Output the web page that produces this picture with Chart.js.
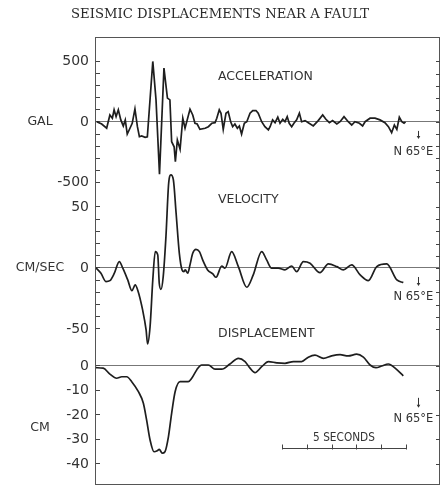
<!DOCTYPE html>
<html><head><meta charset="utf-8">
<script src="https://cdn.jsdelivr.net/npm/chart.js@4.4.1/dist/chart.umd.min.js"></script>
<style>html,body{margin:0;padding:0;background:#fff;}canvas{display:block;}</style>
</head><body>
<canvas id="c" width="443" height="488"></canvas>
<script>
// ---- data (time in seconds) ----
const accTime = [0.03,0.23,0.43,0.56,0.66,0.73,0.81,0.90,1.00,1.10,1.18,1.26,1.37,1.46,1.57,1.67,1.75,1.84,1.98,2.07,2.29,2.42,2.56,2.74,2.88,2.98,3.05,3.15,3.20,3.28,3.39,3.50,3.59,3.79,3.90,3.99,4.08,4.19,4.40,4.53,4.67,4.80,4.87,4.97,5.04,5.13,5.24,5.33,5.43,5.51,5.60,5.70,5.78,5.87,5.98,6.08,6.21,6.32,6.45,6.54,6.68,6.81,6.95,7.02,7.12,7.22,7.33,7.42,7.53,7.62,7.71,7.79,7.89,7.98,8.09,8.20,8.29,8.43,8.56,8.76,8.96,9.14,9.27,9.41,9.54,9.71,9.84,10.00,10.17,10.31,10.44,10.62,10.75,10.85,11.05,11.25,11.45,11.65,11.79,11.92,12.03,12.13,12.23,12.33,12.42,12.48];
const accValues = [2,-17,-52,58,31,100,44,100,17,-33,17,-100,-52,-11,108,-39,-122,-116,-127,-122,500,182,-431,445,197,182,-163,-205,-329,-149,-226,31,-52,105,58,-11,-17,-61,-52,-39,-11,-6,31,100,72,-61,72,85,2,-39,-17,-52,-33,-100,-11,2,72,94,94,72,2,-39,-66,-39,17,-6,39,-11,22,2,44,-11,-39,-11,17,72,2,11,-6,-33,11,58,22,-6,11,-17,2,44,2,-25,2,-11,-33,2,31,31,17,-6,-39,-89,-25,-61,39,2,-11,0];

const velTime = [0,0.20,0.40,0.56,0.74,0.94,1.08,1.28,1.45,1.58,1.68,1.88,2.02,2.08,2.18,2.29,2.39,2.49,2.55,2.62,2.71,2.82,2.93,3.02,3.12,3.23,3.36,3.47,3.54,3.60,3.70,3.79,3.90,4.03,4.17,4.30,4.50,4.71,4.84,5.07,5.20,5.47,5.74,6.08,6.34,6.68,6.88,7.08,7.35,7.62,7.89,8.09,8.36,8.63,9.03,9.37,9.71,9.97,10.31,10.65,10.98,11.32,11.72,12.13,12.39];
const velValues = [0,-4.3,-11.2,-10.4,-4.3,5.2,-0.2,-9.8,-18.6,-13.9,-18.0,-34.4,-50.8,-62.3,-48.1,-9.8,13.4,10.7,-12.5,-17.5,-7.1,25.7,69.4,76.2,72.1,44.8,12.0,-1.6,-3.0,-1.6,-4.3,2.5,12.0,15.3,13.4,6.6,-1.6,-4.9,-7.6,1.6,-0.2,13.4,1.1,-15.8,-5.7,13.4,6.6,-0.2,-0.2,-1.6,1.6,-3.0,5.2,3.9,-3.9,3.3,1.1,-1.6,2.5,-5.7,-10.4,1.1,3.3,-9.8,-12.0];

const dispTime = [0,0.29,0.56,0.83,1.04,1.24,1.44,1.71,1.91,2.04,2.18,2.34,2.47,2.55,2.67,2.78,2.92,3.05,3.19,3.39,3.59,3.72,3.86,4.06,4.26,4.53,4.80,5.07,5.40,5.74,6.01,6.21,6.41,6.68,6.95,7.29,7.62,7.96,8.29,8.56,8.83,9.17,9.50,9.84,10.17,10.51,10.78,11.05,11.29,11.52,11.79,12.06,12.39];
const dispValues = [-0.7,-0.9,-3.3,-5.0,-4.4,-4.4,-6.4,-10.5,-15.2,-22.0,-30.2,-35.0,-34.6,-34.0,-35.6,-35.0,-28.9,-19.3,-10.5,-6.4,-6.4,-6.4,-5.0,-1.6,0.4,0.4,-1.3,-1.3,0.8,3.1,1.8,-0.9,-2.7,-0.3,1.8,1.3,1.1,1.8,1.8,3.6,4.4,3.1,4.1,4.6,4.1,4.8,3.6,0.4,-0.7,0,0.8,-0.9,-4.0];

// ---- tick values and labels ----
const accTicks = [-500,-400,-300,-200,-100,0,100,200,300,400,500];
const accTickLabels = [500,0,-500];
const velTicks = [-50,-40,-30,-20,-10,0,10,20,30,40,50];
const velTickLabels = [50,0,-50];
const dispTicks = [-40,-30,-20,-10,0];
const dispTickLabels = [0,-10,-20,-30,-40];

const titleText = 'SEISMIC DISPLACEMENTS NEAR A FAULT';
const panelNames = ['ACCELERATION','VELOCITY','DISPLACEMENT'];
const unitNames = ['GAL','CM/SEC','CM'];
const directionText = 'N 65°E';
const scaleBarText = '5 SECONDS';
const scaleBarSeconds = [7.5,8.5,9.5,10.5,11.5,12.5];

const INK = '#1e1e1e';
const TXT = '#333';

function pts(t, v) { return t.map((x, i) => ({x: x, y: v[i]})); }

function yAxis(min, max, tickValues, labelValues, stackW, order) {
  return {
    type: 'linear', position: 'left', stack: 'panels', stackWeight: stackW, weight: order,
    offset: false, min: min, max: max,
    afterBuildTicks: s => { s.ticks = tickValues.map(v => ({value: v})); },
    afterFit: s => { s.width = 96; s.paddingTop = 0; s.paddingBottom = 0; },
    ticks: {
      autoSkip: false, padding: 11, color: TXT,
      font: {family: 'DejaVu Sans', size: 14},
      callback: v => labelValues.includes(v) ? String(v) : ''
    },
    grid: {
      drawTicks: true, tickLength: -4, tickColor: '#444', tickWidth: 1,
      lineWidth: 1,
      color: c => (c.tick && c.tick.value === 0) ? '#777' : 'rgba(0,0,0,0)'
    },
    border: {display: false}
  };
}

const decor = {
  id: 'decor',
  afterDraw(chart) {
    const ctx = chart.ctx, a = chart.chartArea, sc = chart.scales, xs = sc.x;
    const ys = [sc.yAcc, sc.yVel, sc.yDisp];
    ctx.save();
    // frame
    ctx.strokeStyle = '#555'; ctx.lineWidth = 1;
    ctx.strokeRect(Math.round(a.left) - 0.5, Math.round(a.top) + 0.5,
                   Math.round(a.right - a.left), Math.round(a.bottom - a.top) - 1);
    // right side ticks mirroring each axis
    ctx.strokeStyle = '#444';
    ys.forEach(s => s.ticks.forEach(t => {
      const y = Math.round(s.getPixelForValue(t.value)) + 0.5;
      ctx.beginPath(); ctx.moveTo(a.right - 4, y); ctx.lineTo(a.right, y); ctx.stroke();
    }));
    ctx.fillStyle = TXT;
    ctx.textBaseline = 'middle';
    // unit labels
    ctx.font = '12.5px "DejaVu Sans"'; ctx.textAlign = 'center';
    const unitAt = [0, 0, -25.3];
    ys.forEach((s, i) => ctx.fillText(unitNames[i], a.left - 56, s.getPixelForValue(unitAt[i])));
    // panel names
    ctx.textAlign = 'left';
    const nameAt = [375, 55.7, 13];
    ys.forEach((s, i) => ctx.fillText(panelNames[i], xs.getPixelForValue(4.92), s.getPixelForValue(nameAt[i])));
    // direction labels with arrows
    const dirAt = [-248, -23.8, -21.6];
    const arrowFrom = [-74, -7.4, -13];
    const arrowTo = [-140, -14.8, -17];
    ctx.font = '11.5px "DejaVu Sans"'; ctx.textAlign = 'right';
    ys.forEach((s, i) => {
      ctx.fillText(directionText, xs.getPixelForValue(13.6), s.getPixelForValue(dirAt[i]));
      const ax = Math.round(xs.getPixelForValue(12.98)) + 0.5;
      const y1 = s.getPixelForValue(arrowFrom[i]), y2 = s.getPixelForValue(arrowTo[i]);
      ctx.strokeStyle = TXT; ctx.lineWidth = 1;
      ctx.beginPath(); ctx.moveTo(ax, y1); ctx.lineTo(ax, y2 - 2); ctx.stroke();
      ctx.beginPath(); ctx.moveTo(ax - 1.8, y2 - 3); ctx.lineTo(ax + 1.8, y2 - 3); ctx.lineTo(ax, y2); ctx.closePath(); ctx.fill();
    });
    // scale bar
    const sy = Math.round(sc.yDisp.getPixelForValue(-33.5)) + 0.5;
    const x0 = xs.getPixelForValue(scaleBarSeconds[0]);
    const x1 = xs.getPixelForValue(scaleBarSeconds[scaleBarSeconds.length - 1]);
    ctx.strokeStyle = '#444'; ctx.lineWidth = 1;
    ctx.beginPath(); ctx.moveTo(x0, sy); ctx.lineTo(x1, sy); ctx.stroke();
    scaleBarSeconds.forEach(t => {
      const x = Math.round(xs.getPixelForValue(t)) + 0.5;
      ctx.beginPath(); ctx.moveTo(x, sy + 1); ctx.lineTo(x, sy - 4); ctx.stroke();
    });
    ctx.font = '12px "DejaVu Sans"'; ctx.textAlign = 'center';
    const cx = xs.getPixelForValue(10), cy = sc.yDisp.getPixelForValue(-29.4);
    ctx.translate(cx, cy); ctx.scale(0.88, 1.05);
    ctx.fillText(scaleBarText, 0, 0);
    ctx.restore();
  }
};

const lineStyle = {borderColor: INK, borderWidth: 1.7, pointRadius: 0, fill: false, clip: false};

new Chart(document.getElementById('c'), {
  type: 'line',
  data: {
    datasets: [
      Object.assign({label: 'Acceleration', data: pts(accTime, accValues), yAxisID: 'yAcc', tension: 0}, lineStyle),
      Object.assign({label: 'Velocity', data: pts(velTime, velValues), yAxisID: 'yVel', cubicInterpolationMode: 'monotone'}, lineStyle),
      Object.assign({label: 'Displacement', data: pts(dispTime, dispValues), yAxisID: 'yDisp', cubicInterpolationMode: 'monotone'}, lineStyle)
    ]
  },
  options: {
    responsive: false, animation: false, devicePixelRatio: 1,
    layout: {padding: {left: 0, right: 3, top: 0, bottom: 3}},
    plugins: {
      legend: {display: false}, tooltip: {enabled: false},
      title: {
        display: true, text: titleText, color: '#2a2a2a',
        font: {family: 'DejaVu Serif', size: 13.2, weight: 'normal', lineHeight: 1.2},
        padding: {top: 7.1, bottom: 14.0}
      }
    },
    scales: {
      x: {type: 'linear', min: 0, max: 13.87, display: false},
      yAcc: yAxis(-603.3, 702.5, accTicks, accTickLabels, 158, 3),
      yVel: yAxis(-63.1, 59.8, velTicks, velTickLabels, 150, 2),
      yDisp: yAxis(-48.57, 8.57, dispTicks, dispTickLabels, 140, 1)
    }
  },
  plugins: [decor]
});
</script>
</body></html>
